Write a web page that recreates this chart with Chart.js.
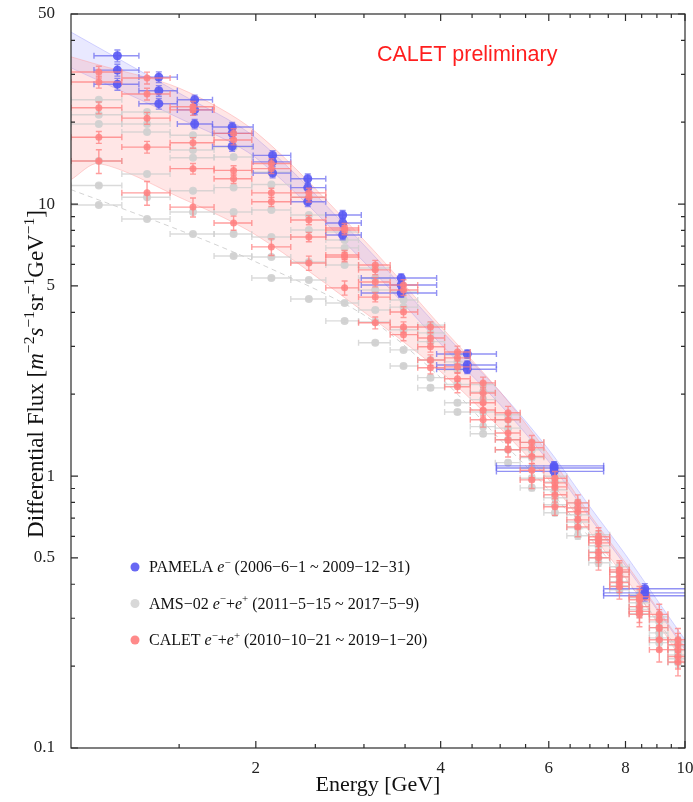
<!DOCTYPE html>
<html>
<head>
<meta charset="utf-8">
<script src="https://cdn.jsdelivr.net/npm/chart.js@4.4.0/dist/chart.umd.min.js"></script>
<style>
  html, body { margin: 0; padding: 0; background: #fff; }
</style>
</head>
<body>
<canvas id="fluxChart" width="693" height="802"></canvas>
<script>
// ---- energy bins [GeV] (AMS-02 / CALET) ----
var binCenter = [1.11, 1.33, 1.58, 1.84, 2.12, 2.44, 2.79, 3.13, 3.48, 3.85, 4.26, 4.69, 5.15, 5.63, 6.14, 6.69, 7.23, 7.82, 8.43, 9.08, 9.74];
var binLow    = [1.00, 1.21, 1.45, 1.71, 1.97, 2.28, 2.60, 2.94, 3.31, 3.67, 4.06, 4.47, 4.91, 5.39, 5.89, 6.42, 6.97, 7.54, 8.11, 8.75, 9.38];
var binHigh   = [1.21, 1.45, 1.71, 1.97, 2.28, 2.60, 2.94, 3.31, 3.67, 4.06, 4.47, 4.91, 5.39, 5.89, 6.42, 6.97, 7.54, 8.11, 8.75, 9.38, 10.1];

// ---- PAMELA e- bins and fluxes ----
var pamelaCenter = [1.19, 1.39, 1.59, 1.83, 2.13, 2.43, 2.77, 3.45, 4.42, 6.12, 8.6];
var pamelaLow    = [1.09, 1.29, 1.49, 1.70, 1.98, 2.28, 2.60, 2.97, 3.94, 4.93, 7.37];
var pamelaHigh   = [1.29, 1.49, 1.70, 1.98, 2.28, 2.60, 2.97, 3.94, 4.93, 7.37, 10.5];
var pamela1 = [35.1, 29.3, 24.2, 19.2, 15.1, 12.4, 9.12, 5.35, 2.81, 1.09, 0.385];
var pamela2 = [31.1, 26.1, 22.2, 18.2, 14.3, 11.5, 8.52, 5.04, 2.56, 1.07, 0.372];
var pamela3 = [27.6, 23.4, 19.7, 16.3, 13.0, 10.2, 7.70, 4.71, 2.47, 1.04, 0.363];
var pamelaRelErr = [0.05, 0.045, 0.04, 0.04, 0.04, 0.04, 0.04, 0.035, 0.035, 0.035, 0.045];

// ---- AMS-02 e- + e+ ----
var ams1 = [24.2, 21.8, 17.9, 16.2, 13.1, 10.6, 7.90, 5.82, 4.75, 3.59, 2.79, 2.17, 1.68, 1.33, 0.998, 0.797, 0.608, 0.464, 0.366, 0.304, 0.246];
var ams2 = [21.3, 19.7, 15.8, 14.9, 11.8, 9.12, 7.38, 5.35, 4.44, 3.36, 2.63, 2.04, 1.61, 1.25, 0.952, 0.764, 0.583, 0.444, 0.357, 0.291, 0.238];
var ams3 = [19.7, 18.4, 14.8, 11.5, 9.51, 8.03, 6.90, 4.83, 4.18, 3.12, 2.46, 1.91, 1.50, 1.17, 0.890, 0.721, 0.554, 0.426, 0.342, 0.277, 0.228];
var ams4 = [14.4, 12.9, 11.2, 9.35, 7.57, 6.13, 5.97, 4.08, 3.45, 2.67, 2.17, 1.72, 1.36, 1.07, 0.832, 0.678, 0.527, 0.409, 0.331, 0.265, 0.220];
var ams5 = [11.7, 10.6, 9.35, 7.76, 6.39, 5.26, 4.33, 3.69, 2.91, 2.30, 1.86, 1.52, 1.25, 0.981, 0.784, 0.645, 0.501, 0.395, 0.323, 0.254, 0.213];
var ams6 = [9.92, 8.81, 7.76, 6.44, 5.35, 4.48, 3.72, 3.09, 2.54, 2.11, 1.72, 1.43, 1.12, 0.905, 0.733, 0.603, 0.480, 0.382, 0.312, 0.244, 0.206];
var amsRelErr = [0.015, 0.015, 0.015, 0.015, 0.015, 0.015, 0.015, 0.015, 0.015, 0.02, 0.02, 0.02, 0.02, 0.025, 0.025, 0.03, 0.03, 0.035, 0.035, 0.04, 0.04];

// ---- CALET e- + e+ ----
var calet1 = [30.6, 29.1, 22.8, 18.2, 14.1, 11.0, 8.17, 5.97, 5.04, 3.53, 2.86, 2.20, 1.71, 1.33, 0.981, 0.797, 0.598, 0.452, 0.360, 0.310, 0.250];
var calet2 = [28.1, 25.4, 22.2, 17.2, 13.5, 10.6, 8.03, 5.73, 4.83, 3.22, 2.72, 2.02, 1.61, 1.27, 0.944, 0.764, 0.583, 0.444, 0.351, 0.296, 0.240];
var calet3 = [22.6, 20.7, 16.8, 13.3, 11.0, 8.74, 6.50, 5.17, 4.01, 2.99, 2.52, 1.86, 1.44, 1.18, 0.912, 0.739, 0.568, 0.426, 0.331, 0.277, 0.230];
var calet4 = [17.6, 16.2, 13.5, 12.4, 10.2, 7.57, 6.39, 4.55, 3.53, 2.67, 2.28, 1.75, 1.36, 1.05, 0.853, 0.690, 0.523, 0.406, 0.318, 0.250, 0.217];
var calet5 = [14.4, 11.0, 9.75, 8.52, 6.96, 6.07, 4.92, 3.66, 3.31, 2.50, 2.13, 1.61, 1.25, 0.968, 0.771, 0.650, 0.501, 0.392, 0.310, 0.230, 0.207];
var caletRelErr  = [0.05, 0.05, 0.045, 0.04, 0.04, 0.04, 0.04, 0.04, 0.045, 0.045, 0.05, 0.05, 0.055, 0.06, 0.06, 0.07, 0.08, 0.08, 0.09, 0.09, 0.10];
var calet5RelErr = [0.10, 0.10, 0.08, 0.06, 0.07, 0.06, 0.06, 0.05, 0.05, 0.05, 0.05, 0.06, 0.06, 0.07, 0.07, 0.08, 0.10, 0.10, 0.10, 0.10, 0.11];

// ---- bands ----
var pamBandE  = [1, 1.5, 2, 3, 4, 5, 6, 7, 8, 9, 10];
var pamBandHi = [42.9, 25.6, 17.5, 7.07, 3.45, 2.04, 1.25, 0.771, 0.514, 0.351, 0.250];
var pamBandLo = [31.7, 20.7, 14.8, 6.13, 3.06, 1.83, 1.13, 0.703, 0.468, 0.323, 0.230];
var calBandE  = [1, 1.11, 1.5, 2, 3, 4, 5, 6, 7, 8, 9, 10];
var calBandHi = [34.8, 32.5, 26.7, 18.4, 7.38, 3.56, 2.04, 1.20, 0.721, 0.480, 0.328, 0.234];
var calBandLo = [12.3, 14.1, 10.6, 7.70, 4.01, 2.42, 1.50, 0.968, 0.623, 0.422, 0.291, 0.202];
var amsLineE  = [1, 1.5, 2, 3, 4, 5, 6, 7, 8, 9, 10];
var amsLineF  = [11.3, 8.03, 6.13, 3.91, 2.30, 1.36, 0.890, 0.593, 0.416, 0.296, 0.211];

// ---- axes ----
var xMajorTicks = [2, 4, 6, 8, 10];
var xMinorTicks = [1.5, 2.5, 3, 3.5, 4.5, 5, 5.5, 6.5, 7, 7.5, 8.5, 9, 9.5];
var yMajorTicks = [0.1, 0.5, 1, 5, 10, 50];
var yMinorTicks = [0.2, 0.3, 0.4, 0.6, 0.7, 0.8, 0.9, 2, 3, 4, 6, 7, 8, 9, 20, 30, 40];

// legend rows: [text, style]  style: '' normal, 'i' italic, 's' superscript
var legendColors = ['#6868f4', '#d8d8d8', '#ff8a8a'];
var legendRows = [
    [['PAMELA ', ''], ['e', 'i'], ['\u2212', 's'], [' (2006\u22126\u22121 ~ 2009\u221212\u221231)', '']],
    [['AMS\u221202 ', ''], ['e', 'i'], ['\u2212', 's'], ['+', ''], ['e', 'i'], ['+', 's'], [' (2011\u22125\u221215 ~ 2017\u22125\u22129)', '']],
    [['CALET ', ''], ['e', 'i'], ['\u2212', 's'], ['+', ''], ['e', 'i'], ['+', 's'], [' (2010\u221210\u221221 ~ 2019\u22121\u221220)', '']]
];
var yTitle = [['Differential Flux [', ''], ['m', 'i'], ['\u22122', 's'], ['s', 'i'], ['\u22121', 's'], ['sr', ''], ['\u22121', 's'], ['GeV', ''], ['\u22121', 's'], [']', '']];
var xTitle = [['Energy [GeV]', '']];


function pointsFrom(xs, ys) {
    return xs.map(function (x, i) { return { x: x, y: ys[i] }; });
}

function seriesSet(centers, lows, highs, values, relErr, color, barColor, radius, order) {
    return {
        data: pointsFrom(centers, values),
        errLow: lows,
        errHigh: highs,
        relErr: relErr,
        barColor: barColor,
        backgroundColor: color,
        borderColor: color,
        borderWidth: 0,
        pointRadius: radius,
        order: order
    };
}

function bandLine(xs, ys, fill, fillColor, edgeColor, order) {
    return {
        type: 'line',
        data: pointsFrom(xs, ys),
        fill: fill,
        backgroundColor: fillColor,
        borderColor: edgeColor,
        borderWidth: 1,
        pointRadius: 0,
        tension: 0.3,
        order: order
    };
}

var blueDot = 'rgba(88, 88, 244, 0.9)', blueBar = 'rgba(100, 100, 240, 0.7)';
var grayDot = 'rgba(208, 208, 208, 0.9)', grayBar = 'rgba(205, 205, 205, 0.75)';
var pinkDot = 'rgba(255, 128, 128, 0.85)', pinkBar = 'rgba(255, 125, 125, 0.75)';

var datasets = [
    bandLine(pamBandE, pamBandHi, '+1', 'rgba(125, 125, 255, 0.17)', 'rgba(140, 140, 255, 0.35)', 9),
    bandLine(pamBandE, pamBandLo, false, 'rgba(0,0,0,0)', 'rgba(140, 140, 255, 0.35)', 9),
    bandLine(calBandE, calBandHi, '+1', 'rgba(255, 140, 140, 0.22)', 'rgba(255, 150, 150, 0.4)', 8),
    bandLine(calBandE, calBandLo, false, 'rgba(0,0,0,0)', 'rgba(255, 150, 150, 0.4)', 8),
    {
        type: 'line', data: pointsFrom(amsLineE, amsLineF), fill: false,
        borderColor: 'rgba(200, 200, 200, 0.8)', borderWidth: 1, borderDash: [5, 4],
        pointRadius: 0, tension: 0.3, order: 7
    }
];
[ams1, ams2, ams3, ams4, ams5, ams6].forEach(function (vals) {
    datasets.push(seriesSet(binCenter, binLow, binHigh, vals, amsRelErr, grayDot, grayBar, 4, 5));
});
[pamela1, pamela2, pamela3].forEach(function (vals) {
    datasets.push(seriesSet(pamelaCenter, pamelaLow, pamelaHigh, vals, pamelaRelErr, blueDot, blueBar, 4.5, 3));
});
[calet1, calet2, calet3, calet4].forEach(function (vals) {
    datasets.push(seriesSet(binCenter, binLow, binHigh, vals, caletRelErr, pinkDot, pinkBar, 3.5, 2));
});
datasets.push(seriesSet(binCenter, binLow, binHigh, calet5, calet5RelErr, pinkDot, pinkBar, 3.5, 2));


var errorBarPlugin = {
    id: 'errorBars',
    beforeDatasetDraw: function (chart, args) {
        var ds = chart.data.datasets[args.index];
        if (!ds.errLow) return;
        var xs = chart.scales.x, ys = chart.scales.y, ctx = chart.ctx, a = chart.chartArea;
        ctx.save();
        ctx.beginPath();
        ctx.rect(a.left, a.top, a.right - a.left, a.bottom - a.top);
        ctx.clip();
        ctx.strokeStyle = ds.barColor;
        ctx.lineWidth = 1.4;
        ds.data.forEach(function (p, i) {
            var px = xs.getPixelForValue(p.x), py = ys.getPixelForValue(p.y);
            var x0 = xs.getPixelForValue(ds.errLow[i]), x1 = xs.getPixelForValue(ds.errHigh[i]);
            var y0 = ys.getPixelForValue(p.y * (1 + ds.relErr[i]));
            var y1 = ys.getPixelForValue(p.y * (1 - ds.relErr[i]));
            ctx.beginPath();
            ctx.moveTo(x0, py); ctx.lineTo(x1, py);
            ctx.moveTo(x0, py - 3); ctx.lineTo(x0, py + 3);
            ctx.moveTo(x1, py - 3); ctx.lineTo(x1, py + 3);
            ctx.moveTo(px, y0); ctx.lineTo(px, y1);
            ctx.moveTo(px - 3, y0); ctx.lineTo(px + 3, y0);
            ctx.moveTo(px - 3, y1); ctx.lineTo(px + 3, y1);
            ctx.stroke();
        });
        ctx.restore();
    }
};

function richFont(size, style) {
    return (style === 'i' ? 'italic ' : '') + size + 'px "Liberation Serif"';
}

function drawRich(ctx, segs, x, y, size, align) {
    var total = 0, widths = [];
    segs.forEach(function (s) {
        ctx.font = richFont(s[1] === 's' ? size * 0.68 : size, s[1]);
        var w = ctx.measureText(s[0]).width;
        widths.push(w);
        total += w;
    });
    var cx = align === 'center' ? x - total / 2 : x;
    segs.forEach(function (s, i) {
        ctx.font = richFont(s[1] === 's' ? size * 0.68 : size, s[1]);
        ctx.fillText(s[0], cx, s[1] === 's' ? y - size * 0.4 : y);
        cx += widths[i];
    });
}

var framePlugin = {
    id: 'frame',
    afterDatasetsDraw: function (chart) {
        var ctx = chart.ctx, a = chart.chartArea, xs = chart.scales.x, ys = chart.scales.y;
        ctx.save();
        ctx.strokeStyle = '#2a2a2a';
        ctx.lineWidth = 1.2;
        ctx.strokeRect(a.left, a.top, a.right - a.left, a.bottom - a.top);
        ctx.beginPath();
        function xTick(v, len) {
            var p = xs.getPixelForValue(v);
            ctx.moveTo(p, a.bottom); ctx.lineTo(p, a.bottom - len);
            ctx.moveTo(p, a.top); ctx.lineTo(p, a.top + len);
        }
        function yTick(v, len) {
            var p = ys.getPixelForValue(v);
            ctx.moveTo(a.left, p); ctx.lineTo(a.left + len, p);
            ctx.moveTo(a.right, p); ctx.lineTo(a.right - len, p);
        }
        xMajorTicks.forEach(function (v) { xTick(v, 7); });
        xMinorTicks.forEach(function (v) { xTick(v, 4); });
        yMajorTicks.forEach(function (v) { yTick(v, 7); });
        yMinorTicks.forEach(function (v) { yTick(v, 4); });
        ctx.stroke();
        ctx.restore();
    },
    afterDraw: function (chart) {
        var ctx = chart.ctx, a = chart.chartArea;
        ctx.save();
        ctx.fillStyle = '#111';
        ctx.textBaseline = 'alphabetic';
        drawRich(ctx, xTitle, (a.left + a.right) / 2, 791, 22, 'center');
        ctx.translate(43, 374);
        ctx.rotate(-Math.PI / 2);
        drawRich(ctx, yTitle, 0, 0, 23, 'center');
        ctx.restore();

        ctx.save();
        ctx.fillStyle = '#ff1e1e';
        ctx.font = '21.5px "Liberation Sans"';
        ctx.fillText('CALET preliminary', 377, 61);
        ctx.restore();

        ctx.save();
        legendRows.forEach(function (row, i) {
            var cy = 567 + i * 36.5;
            ctx.fillStyle = legendColors[i];
            ctx.beginPath();
            ctx.arc(135, cy, 4.5, 0, Math.PI * 2);
            ctx.fill();
            ctx.fillStyle = '#111';
            drawRich(ctx, row, 149, cy + 5, 16, 'left');
        });
        ctx.restore();
    }
};

function noScalePadding(s) {
    s.paddingLeft = 0;
    s.paddingRight = 0;
    s.paddingTop = 0;
    s.paddingBottom = 0;
}

var fluxChart = new Chart(document.getElementById('fluxChart'), {
    type: 'scatter',
    data: { datasets: datasets },
    options: {
        responsive: false,
        animation: false,
        layout: { padding: { top: 14, right: 8, left: 0, bottom: 0 } },
        plugins: { legend: { display: false }, tooltip: { enabled: false } },
        scales: {
            x: {
                type: 'logarithmic', min: 1, max: 10,
                grid: { display: false }, border: { display: false },
                afterBuildTicks: function (s) { s.ticks = xMajorTicks.map(function (v) { return { value: v }; }); },
                afterFit: function (s) { s.height = 54; noScalePadding(s); },
                ticks: {
                    padding: 2, color: '#222', maxRotation: 0, autoSkip: false,
                    font: { family: 'Liberation Serif', size: 17 },
                    callback: function (v) { return String(v); }
                }
            },
            y: {
                type: 'logarithmic', min: 0.1, max: 50,
                grid: { display: false }, border: { display: false },
                afterBuildTicks: function (s) { s.ticks = yMajorTicks.map(function (v) { return { value: v }; }); },
                afterFit: function (s) { s.width = 71; noScalePadding(s); },
                ticks: {
                    padding: 8, color: '#222', autoSkip: false,
                    font: { family: 'Liberation Serif', size: 17 },
                    callback: function (v) { return String(v); }
                }
            }
        }
    },
    plugins: [errorBarPlugin, framePlugin]
});
</script>
</body>
</html>
